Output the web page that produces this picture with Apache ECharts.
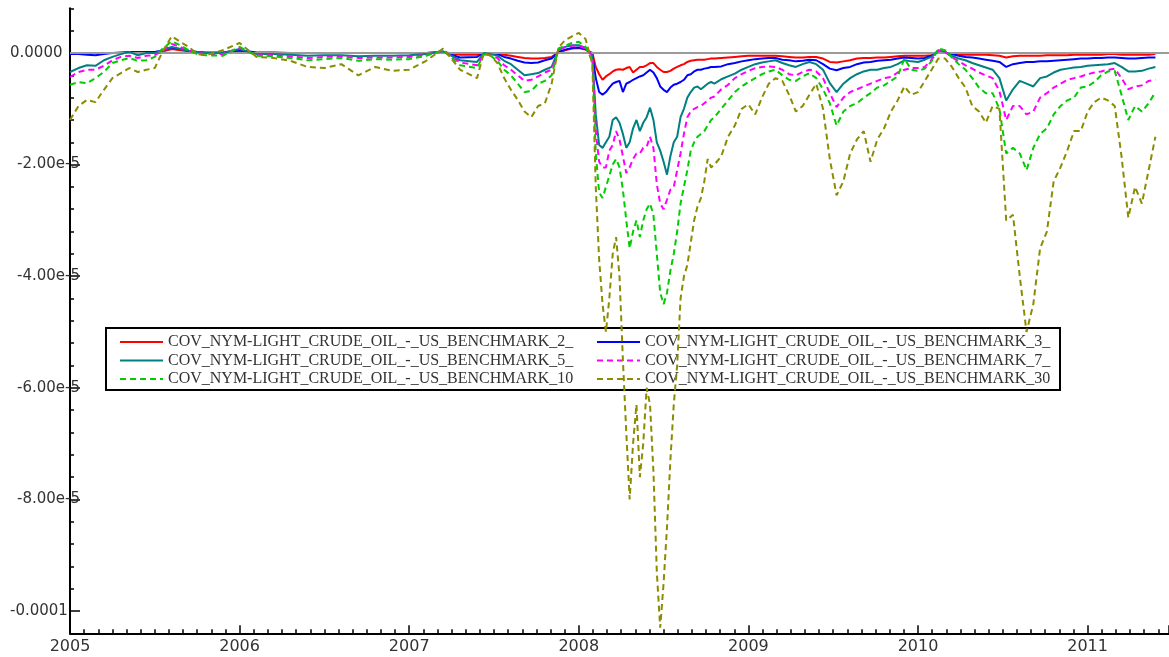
<!DOCTYPE html>
<html>
<head>
<meta charset="utf-8">
<script src="https://cdn.jsdelivr.net/npm/echarts@6/dist/echarts.min.js"></script>
<style>
  html, body { margin: 0; padding: 0; background: #ffffff; }
  #chart { width: 1169px; height: 657px; }
</style>
</head>
<body>
<div id="chart"></div>
<script>
// Dates as decimal years
const years = [
  2005.00, 2005.05, 2005.10, 2005.15, 2005.20, 2005.25, 2005.30, 2005.35, 2005.40, 2005.45,
  2005.50, 2005.55, 2005.60, 2005.65, 2005.70, 2005.75, 2005.80, 2005.90, 2006.00, 2006.10,
  2006.20, 2006.30, 2006.40, 2006.50, 2006.60, 2006.70, 2006.80, 2006.90, 2007.00, 2007.10,
  2007.20, 2007.30, 2007.40, 2007.44, 2007.48, 2007.52, 2007.56, 2007.60, 2007.64, 2007.68,
  2007.72, 2007.76, 2007.80, 2007.84, 2007.88, 2007.92, 2007.96, 2008.00, 2008.04, 2008.08,
  2008.10, 2008.12, 2008.14, 2008.16, 2008.18, 2008.20, 2008.22, 2008.24, 2008.26, 2008.28,
  2008.30, 2008.32, 2008.34, 2008.36, 2008.38, 2008.40, 2008.42, 2008.44, 2008.46, 2008.48,
  2008.50, 2008.52, 2008.54, 2008.56, 2008.58, 2008.60, 2008.62, 2008.64, 2008.66, 2008.68,
  2008.70, 2008.72, 2008.74, 2008.76, 2008.78, 2008.80, 2008.84, 2008.88, 2008.92, 2008.96,
  2009.00, 2009.04, 2009.08, 2009.12, 2009.16, 2009.20, 2009.24, 2009.28, 2009.32, 2009.36,
  2009.40, 2009.44, 2009.48, 2009.52, 2009.56, 2009.60, 2009.64, 2009.68, 2009.72, 2009.76,
  2009.80, 2009.84, 2009.88, 2009.92, 2009.96, 2010.00, 2010.04, 2010.08, 2010.12, 2010.16,
  2010.20, 2010.24, 2010.28, 2010.32, 2010.36, 2010.40, 2010.44, 2010.48, 2010.52, 2010.56,
  2010.60, 2010.64, 2010.68, 2010.72, 2010.76, 2010.80, 2010.84, 2010.88, 2010.92, 2010.96,
  2011.00, 2011.04, 2011.08, 2011.12, 2011.16, 2011.20, 2011.24, 2011.28, 2011.32, 2011.36,
  2011.40
];

// Covariances, in units of 1e-5
const cov2 = [
  0, 0, 0, 0, 0, 0, 0, 0, 0, 0,
  0.01, 0.03, 0.07, 0.05, 0.03, 0.01, 0, 0, 0.03, 0,
  0, 0, 0, 0, 0, 0, 0, 0, 0, 0,
  0.02, -0.03, -0.03, 0, 0, -0.01, -0.03, -0.05, -0.07, -0.09,
  -0.10, -0.10, -0.09, -0.07, 0.01, 0.05, 0.08, 0.09, 0.06, 0,
  -0.25, -0.38, -0.48, -0.42, -0.38, -0.33, -0.30, -0.29, -0.30, -0.27,
  -0.25, -0.35, -0.30, -0.25, -0.25, -0.22, -0.18, -0.18, -0.25, -0.30,
  -0.34, -0.34, -0.32, -0.28, -0.25, -0.22, -0.20, -0.16, -0.14, -0.13,
  -0.12, -0.12, -0.12, -0.11, -0.10, -0.10, -0.09, -0.08, -0.07, -0.06,
  -0.05, -0.05, -0.05, -0.05, -0.05, -0.06, -0.07, -0.08, -0.08, -0.07,
  -0.07, -0.10, -0.16, -0.17, -0.15, -0.13, -0.10, -0.09, -0.09, -0.08,
  -0.08, -0.07, -0.06, -0.05, -0.05, -0.05, -0.05, -0.04, 0.02, 0.01,
  -0.02, -0.03, -0.03, -0.03, -0.03, -0.03, -0.04, -0.05, -0.08, -0.06,
  -0.05, -0.05, -0.05, -0.05, -0.04, -0.04, -0.04, -0.04, -0.03, -0.03,
  -0.03, -0.03, -0.03, -0.02, -0.02, -0.03, -0.03, -0.03, -0.03, -0.03,
  -0.02
];
const cov3 = [
  -0.02, -0.02, -0.03, -0.04, -0.02, 0, 0.01, 0.02, 0.02, 0.02,
  0.02, 0.05, 0.10, 0.07, 0.04, 0.02, 0.01, 0.01, 0.05, 0.01,
  0.01, 0, 0, 0, 0, 0, 0, 0, 0, 0,
  0.02, -0.08, -0.07, 0, 0, -0.02, -0.07, -0.10, -0.14, -0.17,
  -0.18, -0.17, -0.13, -0.10, 0.02, 0.06, 0.09, 0.10, 0.07, -0.03,
  -0.45, -0.70, -0.75, -0.70, -0.62, -0.55, -0.52, -0.50, -0.70, -0.55,
  -0.52, -0.48, -0.45, -0.42, -0.40, -0.35, -0.30, -0.35, -0.45, -0.60,
  -0.66, -0.70, -0.62, -0.57, -0.55, -0.52, -0.48, -0.40, -0.38, -0.33,
  -0.30, -0.30, -0.28, -0.27, -0.25, -0.25, -0.24, -0.20, -0.18, -0.15,
  -0.13, -0.11, -0.10, -0.09, -0.09, -0.12, -0.13, -0.15, -0.14, -0.12,
  -0.13, -0.20, -0.28, -0.31, -0.27, -0.25, -0.20, -0.17, -0.16, -0.14,
  -0.13, -0.12, -0.10, -0.08, -0.09, -0.10, -0.09, -0.05, 0.02, 0.01,
  -0.02, -0.05, -0.07, -0.08, -0.10, -0.12, -0.14, -0.16, -0.25, -0.20,
  -0.18, -0.16, -0.16, -0.15, -0.15, -0.14, -0.13, -0.12, -0.11, -0.10,
  -0.10, -0.09, -0.09, -0.08, -0.08, -0.09, -0.10, -0.10, -0.09, -0.08,
  -0.08
];
const cov5 = [
  -0.34, -0.27, -0.22, -0.23, -0.13, -0.07, -0.02, 0.02, -0.04, 0,
  0, 0.05, 0.11, 0.07, 0.04, 0.02, 0, 0, 0.07, -0.02,
  -0.02, -0.03, -0.05, -0.04, -0.04, -0.06, -0.05, -0.05, -0.04, -0.02,
  0.03, -0.13, -0.16, 0, -0.02, -0.05, -0.14, -0.20, -0.30, -0.40,
  -0.38, -0.36, -0.30, -0.25, 0.05, 0.11, 0.14, 0.14, 0.09, -0.05,
  -1.10, -1.65, -1.70, -1.60, -1.50, -1.20, -1.15, -1.25, -1.45, -1.70,
  -1.60, -1.35, -1.20, -1.40, -1.25, -1.15, -0.98, -1.20, -1.60, -1.75,
  -1.95, -2.18, -1.85, -1.60, -1.50, -1.15, -1.00, -0.80, -0.70, -0.62,
  -0.60, -0.65, -0.60, -0.55, -0.52, -0.55, -0.47, -0.42, -0.37, -0.30,
  -0.25, -0.20, -0.17, -0.15, -0.13, -0.18, -0.22, -0.25, -0.20, -0.16,
  -0.20, -0.30, -0.54, -0.70, -0.55, -0.45, -0.38, -0.33, -0.30, -0.30,
  -0.27, -0.25, -0.20, -0.13, -0.15, -0.16, -0.12, -0.07, 0.05, 0.02,
  -0.05, -0.10, -0.13, -0.18, -0.22, -0.26, -0.30, -0.45, -0.85, -0.65,
  -0.50, -0.55, -0.60, -0.45, -0.42, -0.35, -0.30, -0.28, -0.26, -0.25,
  -0.23, -0.22, -0.21, -0.20, -0.18, -0.25, -0.33, -0.33, -0.32, -0.28,
  -0.25
];
const cov7 = [
  -0.43, -0.34, -0.30, -0.30, -0.23, -0.13, -0.07, -0.05, -0.09, -0.05,
  -0.04, 0.05, 0.16, 0.11, 0.04, 0, -0.02, -0.02, 0.09, -0.04,
  -0.04, -0.06, -0.09, -0.07, -0.06, -0.09, -0.08, -0.08, -0.07, -0.03,
  0.04, -0.17, -0.22, -0.02, -0.04, -0.09, -0.22, -0.30, -0.40, -0.50,
  -0.48, -0.42, -0.35, -0.30, 0.05, 0.11, 0.13, 0.13, 0.08, -0.05,
  -1.40, -1.95, -2.05, -2.05, -1.75, -1.65, -1.40, -1.55, -1.85, -2.15,
  -2.05, -1.90, -1.80, -1.80, -1.70, -1.68, -1.50, -1.70, -2.35, -2.70,
  -2.80, -2.63, -2.45, -2.40, -2.10, -1.80, -1.45, -1.15, -1.05, -1.00,
  -0.97, -0.95, -0.90, -0.85, -0.80, -0.78, -0.65, -0.57, -0.45, -0.38,
  -0.32, -0.27, -0.25, -0.24, -0.25, -0.30, -0.38, -0.40, -0.34, -0.30,
  -0.33, -0.45, -0.72, -0.97, -0.80, -0.70, -0.65, -0.60, -0.55, -0.50,
  -0.45, -0.43, -0.35, -0.30, -0.27, -0.27, -0.25, -0.12, 0.04, 0.02,
  -0.08, -0.15, -0.22, -0.28, -0.35, -0.40, -0.45, -0.68, -1.20, -0.95,
  -0.95, -1.10, -1.05, -0.80, -0.72, -0.62, -0.55, -0.48, -0.45, -0.42,
  -0.38, -0.35, -0.33, -0.30, -0.28, -0.45, -0.65, -0.60, -0.58, -0.50,
  -0.48
];
const cov10 = [
  -0.57, -0.52, -0.54, -0.45, -0.34, -0.18, -0.13, -0.09, -0.14, -0.13,
  -0.07, 0.09, 0.21, 0.14, 0.05, -0.02, -0.04, -0.05, 0.11, -0.05,
  -0.06, -0.09, -0.13, -0.11, -0.09, -0.14, -0.11, -0.12, -0.11, -0.05,
  0.05, -0.22, -0.27, -0.02, -0.05, -0.14, -0.30, -0.40, -0.55, -0.70,
  -0.68, -0.55, -0.50, -0.40, 0.08, 0.13, 0.18, 0.20, 0.11, -0.15,
  -1.80, -2.50, -2.60, -2.40, -2.20, -2.00, -1.90, -2.05, -2.45, -3.00,
  -3.50, -3.20, -3.00, -3.30, -3.00, -2.80, -2.70, -2.90, -3.60, -4.30,
  -4.50, -4.30, -3.90, -3.60, -3.20, -2.70, -2.40, -2.10, -1.75, -1.60,
  -1.50, -1.45, -1.40, -1.30, -1.20, -1.15, -1.00, -0.85, -0.70, -0.60,
  -0.52, -0.45, -0.38, -0.33, -0.30, -0.40, -0.48, -0.50, -0.42, -0.36,
  -0.45, -0.65, -0.90, -1.30, -1.05, -0.95, -0.90, -0.80, -0.72, -0.62,
  -0.58, -0.50, -0.42, -0.10, -0.30, -0.32, -0.28, -0.15, 0.08, 0.05,
  -0.08, -0.20, -0.30, -0.45, -0.62, -0.72, -0.72, -1.00, -1.80, -1.70,
  -1.80, -2.10, -1.70, -1.45, -1.35, -1.10, -0.95, -0.85, -0.80, -0.62,
  -0.60, -0.52, -0.40, -0.33, -0.32, -0.75, -1.20, -0.95, -1.05, -0.90,
  -0.70
];
const cov30 = [
  -1.20, -0.95, -0.84, -0.88, -0.66, -0.45, -0.36, -0.27, -0.34, -0.30,
  -0.27, 0.05, 0.30, 0.20, 0.11, -0.02, -0.04, 0.05, 0.18, -0.07,
  -0.09, -0.14, -0.25, -0.27, -0.20, -0.40, -0.25, -0.32, -0.30, -0.14,
  0.08, -0.30, -0.45, 0, -0.05, -0.18, -0.45, -0.66, -0.84, -1.05,
  -1.15, -0.95, -0.90, -0.55, 0.10, 0.23, 0.30, 0.36, 0.25, -0.20,
  -2.40, -3.70, -4.50, -5.00, -4.40, -3.60, -3.30, -4.00, -5.50, -6.80,
  -8.00, -7.00, -6.30, -7.60, -7.00, -6.00, -6.30, -7.50, -9.30, -10.30,
  -9.50, -8.50, -7.30, -6.30, -5.60, -4.40, -4.00, -3.80, -3.40, -3.00,
  -2.75, -2.60, -2.30, -1.90, -2.05, -2.00, -1.85, -1.50, -1.30, -1.00,
  -0.92, -1.10, -0.80, -0.55, -0.45, -0.50, -0.75, -1.05, -0.95, -0.75,
  -0.55, -1.00, -1.90, -2.55, -2.30, -1.80, -1.55, -1.40, -1.95, -1.55,
  -1.35, -1.05, -0.85, -0.60, -0.75, -0.70, -0.50, -0.30, -0.10, -0.10,
  -0.25, -0.45, -0.62, -0.95, -1.05, -1.25, -0.95, -1.00, -3.00, -2.90,
  -4.00, -5.00, -4.50, -3.50, -3.20, -2.30, -2.05, -1.75, -1.40, -1.40,
  -1.05, -0.88, -0.80, -0.85, -0.95, -1.85, -2.95, -2.40, -2.70, -2.10,
  -1.50
];

const seriesDefs = [
  { name: 'COV_NYM-LIGHT_CRUDE_OIL_-_US_BENCHMARK_2_', values: cov2, color: '#ff0000', dash: null },
  { name: 'COV_NYM-LIGHT_CRUDE_OIL_-_US_BENCHMARK_3_', values: cov3, color: '#0000ff', dash: null },
  { name: 'COV_NYM-LIGHT_CRUDE_OIL_-_US_BENCHMARK_5_', values: cov5, color: '#008080', dash: null },
  { name: 'COV_NYM-LIGHT_CRUDE_OIL_-_US_BENCHMARK_7_', values: cov7, color: '#ff00ff', dash: [6, 4] },
  { name: 'COV_NYM-LIGHT_CRUDE_OIL_-_US_BENCHMARK_10', values: cov10, color: '#00cc00', dash: [6, 4] },
  { name: 'COV_NYM-LIGHT_CRUDE_OIL_-_US_BENCHMARK_30', values: cov30, color: '#8c8c00', dash: [6, 4] }
];

// Vertical scale: 55.8 px per 1e-5, zero line at y = 53
const PX_PER_UNIT = 55.8;
const Y_ZERO = 53;
const Y_MAX = 0.8, Y_MIN = -10.4;

const labelFont = 'DejaVu Sans';
const legendFont = 'Liberation Serif';

const series = seriesDefs.map((d, k) => {
  const s = {
    name: d.name,
    type: 'line',
    xAxisIndex: 0,
    yAxisIndex: 0,
    data: years.map((t, i) => [t, d.values[i]]),
    symbol: 'none',
    showSymbol: false,
    animation: false,
    silent: true,
    color: d.color,
    lineStyle: { color: d.color, width: 2, type: d.dash ? d.dash : 'solid' },
    z: 3 + k
  };
  if (k === 0) {
    s.markLine = {
      silent: true,
      symbol: ['none', 'none'],
      label: { show: false },
      lineStyle: { color: '#9a9a9a', width: 2, type: 'solid' },
      data: [{ yAxis: 0 }]
    };
  }
  return s;
});

function yLabel(v) {
  if (Math.abs(v) < 1e-9) return '{a|0.0000}';
  if (Math.abs(v + 10) < 1e-9) return '{a|-0.0001}';
  return '{b|' + v.toFixed(2) + 'e-5}';
}

const legendCommon = {
  orient: 'vertical',
  itemWidth: 43,
  itemHeight: 14,
  itemGap: 0.5,
  selectedMode: false,
  itemStyle: { opacity: 0 },
  textStyle: { fontFamily: legendFont, fontSize: 16, color: '#333', lineHeight: 18 },
  backgroundColor: 'transparent'
};

const option = {
  backgroundColor: '#ffffff',
  animation: false,
  grid: [
    { left: 70, right: 0, top: Y_ZERO - Y_MAX * PX_PER_UNIT, height: (Y_MAX - Y_MIN) * PX_PER_UNIT, containLabel: false },
    { left: 70, right: 0, top: Y_ZERO, height: 10 * PX_PER_UNIT, containLabel: false }
  ],
  xAxis: [
    {
      type: 'value', gridIndex: 0, min: 2005, max: 2011.48, interval: 1,
      axisLine: { show: true, onZero: false, lineStyle: { color: '#000', width: 2 } },
      axisTick: { show: true, inside: true, length: 8, lineStyle: { color: '#000', width: 1.5 } },
      minorTick: { show: true, splitNumber: 12, length: 4, lineStyle: { color: '#000', width: 1.5 } },
      splitLine: { show: false },
      minorSplitLine: { show: false },
      axisLabel: {
        margin: 6, showMaxLabel: false, color: '#333', fontFamily: labelFont, fontSize: 16,
        formatter: v => (Math.abs(v - Math.round(v)) < 1e-6 ? String(Math.round(v)) : '')
      }
    },
    { type: 'value', gridIndex: 1, min: 2005, max: 2011.48, show: false }
  ],
  yAxis: [
    {
      type: 'value', gridIndex: 0, min: Y_MIN, max: Y_MAX, interval: 0.4,
      axisLine: { show: true, onZero: false, lineStyle: { color: '#000', width: 2 } },
      axisTick: { show: true, inside: true, length: 4, lineStyle: { color: '#000', width: 1.5 } },
      axisLabel: { show: false },
      splitLine: { show: false }
    },
    {
      type: 'value', gridIndex: 1, min: -10, max: 0, interval: 2,
      axisLine: { show: false, onZero: false },
      axisTick: { show: true, inside: true, length: 10, lineStyle: { color: '#000', width: 1.5 } },
      splitLine: { show: false },
      axisLabel: {
        align: 'left', margin: 60, formatter: yLabel,
        rich: {
          a: { fontFamily: labelFont, fontSize: 15, color: '#333' },
          b: { fontFamily: labelFont, fontSize: 15, color: '#333', padding: [0, 0, 0, 7] }
        }
      }
    }
  ],
  legend: [
    Object.assign({}, legendCommon, { left: 114, top: 328, data: [seriesDefs[0].name, seriesDefs[2].name, seriesDefs[4].name] }),
    Object.assign({}, legendCommon, { left: 591, top: 328, data: [seriesDefs[1].name, seriesDefs[3].name, seriesDefs[5].name] })
  ],
  graphic: [
    {
      type: 'rect', z: 1, silent: true,
      shape: { x: 106, y: 328, width: 954, height: 62 },
      style: { fill: 'rgba(0,0,0,0)', stroke: '#000', lineWidth: 2 }
    }
  ],
  series: series
};

const chart = echarts.init(document.getElementById('chart'), null, { renderer: 'canvas' });
chart.setOption(option);
</script>
</body>
</html>
